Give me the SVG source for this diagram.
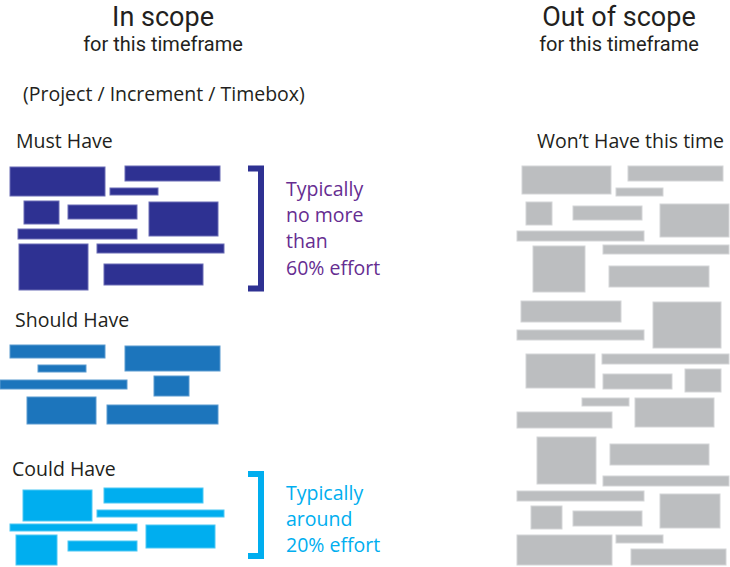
<svg xmlns="http://www.w3.org/2000/svg" width="730" height="567" viewBox="0 0 730 567">
<style>
text{font-family:"Open Sans","Noto Sans","Liberation Sans",sans-serif;fill:#231f20}
.hd{font-family:Roboto,"Open Sans","Liberation Sans",sans-serif}
.h1{font-size:27px}
.h2{font-size:20px}
.lb{font-size:19.5px}
.note{font-size:19.5px}
.must rect{fill:#2e3192;stroke:#6a6db5;stroke-width:1}
.should rect{fill:#1c75bc;stroke:#5b9bd0;stroke-width:1}
.could rect{fill:#00aeef;stroke:#4dc8f4;stroke-width:1}
.wont rect{fill:#bcbec0;stroke:#d4d5d7;stroke-width:1}
.br{fill:none;stroke-width:6;stroke-linejoin:miter}
</style>
<rect width="730" height="567" fill="#fff"/>
<g id="header-in">
<text class="hd h1" x="163" y="25.5" text-anchor="middle">In scope</text>
<text class="hd h2" x="163" y="51" text-anchor="middle">for this timeframe</text>
<text class="lb" x="23" y="101">(Project / Increment / Timebox)</text>
</g>
<g id="header-out">
<text class="hd h1" x="619" y="25.5" text-anchor="middle">Out of scope</text>
<text class="hd h2" x="619" y="51" text-anchor="middle">for this timeframe</text>
</g>
<g id="must-have" class="must">
<text class="lb" x="16" y="148">Must Have</text>
<rect x="10" y="167" width="95" height="29"/>
<rect x="125" y="166" width="95" height="15"/>
<rect x="110" y="188" width="48" height="7"/>
<rect x="24" y="201" width="35" height="23"/>
<rect x="68" y="205" width="69" height="14"/>
<rect x="149" y="202" width="69" height="34"/>
<rect x="18" y="229" width="119" height="10"/>
<rect x="19" y="244" width="69" height="46"/>
<rect x="97" y="244" width="127" height="9"/>
<rect x="104" y="264" width="99" height="21"/>
<polyline class="br" stroke="#2e3192" points="248,168.5 261,168.5 261,288.5 248,288.5"/>
<text class="note" style="fill:#662d91" x="286" y="196">Typically</text>
<text class="note" style="fill:#662d91" x="286" y="222">no more</text>
<text class="note" style="fill:#662d91" x="286" y="248">than</text>
<text class="note" style="fill:#662d91" x="286" y="275">60% effort</text>
</g>
<g id="should-have" class="should">
<text class="lb" x="15" y="327">Should Have</text>
<rect x="10" y="345" width="95" height="13"/>
<rect x="125" y="346" width="95" height="25"/>
<rect x="38" y="365" width="48" height="7"/>
<rect x="0" y="380" width="127" height="9"/>
<rect x="154" y="376" width="35" height="20"/>
<rect x="27" y="397" width="69" height="27"/>
<rect x="107" y="405" width="111" height="19"/>
</g>
<g id="could-have" class="could">
<text class="lb" x="12" y="476">Could Have</text>
<rect x="23" y="490" width="69" height="31"/>
<rect x="104" y="488" width="99" height="15"/>
<rect x="97" y="510" width="127" height="7"/>
<rect x="10" y="524" width="127" height="7"/>
<rect x="16" y="535" width="41" height="30"/>
<rect x="68" y="541" width="69" height="10"/>
<rect x="146" y="525" width="69" height="23"/>
<polyline class="br" stroke="#00aeef" points="248,474 261,474 261,556 248,556"/>
<text class="note" style="fill:#00aeef" x="286" y="500">Typically</text>
<text class="note" style="fill:#00aeef" x="286" y="526">around</text>
<text class="note" style="fill:#00aeef" x="286" y="552">20% effort</text>
</g>
<g id="wont-have" class="wont">
<text class="lb" x="537" y="148">Won’t Have this time</text>
<rect x="522" y="166" width="89" height="28"/>
<rect x="628" y="166" width="95" height="15"/>
<rect x="616" y="188" width="47" height="8"/>
<rect x="526" y="202" width="26" height="23"/>
<rect x="573" y="206" width="69" height="14"/>
<rect x="660" y="204" width="69" height="33"/>
<rect x="517" y="231" width="127" height="10"/>
<rect x="533" y="246" width="52" height="46"/>
<rect x="603" y="245" width="126" height="9"/>
<rect x="609" y="266" width="100" height="21"/>
<rect x="521" y="301" width="100" height="21"/>
<rect x="653" y="302" width="68" height="46"/>
<rect x="517" y="330" width="127" height="10"/>
<rect x="526" y="354" width="69" height="34"/>
<rect x="602" y="354" width="127" height="10"/>
<rect x="603" y="374" width="69" height="15"/>
<rect x="685" y="369" width="36" height="23"/>
<rect x="582" y="398" width="47" height="8"/>
<rect x="635" y="398" width="79" height="29"/>
<rect x="517" y="412" width="95" height="16"/>
<rect x="537" y="437" width="59" height="47"/>
<rect x="610" y="444" width="99" height="21"/>
<rect x="603" y="476" width="126" height="10"/>
<rect x="517" y="491" width="127" height="10"/>
<rect x="531" y="506" width="31" height="23"/>
<rect x="573" y="511" width="69" height="15"/>
<rect x="660" y="494" width="60" height="34"/>
<rect x="517" y="535" width="95" height="30"/>
<rect x="616" y="535" width="47" height="8"/>
<rect x="631" y="549" width="95" height="16"/>
</g>
</svg>
